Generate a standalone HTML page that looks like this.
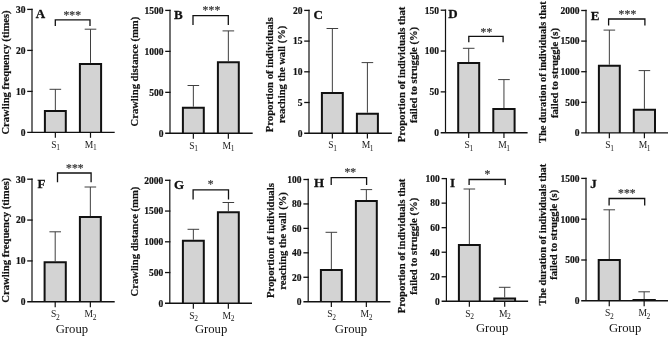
<!DOCTYPE html>
<html><head><meta charset="utf-8"><style>
html,body{margin:0;padding:0;background:#fff;}
svg{display:block;}
text{font-family:"Liberation Serif",serif;fill:#111;}
.tk{font-size:9.5px;font-weight:bold;stroke:#111;stroke-width:0.2px;}
.yl{font-size:10.6px;font-weight:bold;stroke:#111;stroke-width:0.2px;}
.lt{font-size:13.0px;font-weight:bold;stroke:#111;stroke-width:0.3px;}
.xl{font-size:9.6px;fill:#222;}
.gp{font-size:12.7px;fill:#111;}
.st{font-size:11.6px;letter-spacing:0.1px;fill:#3c3c3c;stroke:#3c3c3c;stroke-width:0.25px;}
</style></head><body>
<svg style="opacity:0.999;will-change:transform" width="669" height="337" viewBox="0 0 669 337">
<rect width="669" height="337" fill="#fff"/>
<path d="M55.35,110.00V89.30M49.55,89.30H61.15" stroke="#3f3f3f" stroke-width="1.0" fill="none"/>
<rect x="44.90" y="111.00" width="20.90" height="21.40" fill="#d3d3d3"/>
<path d="M44.90,132.40V111.00H65.80V132.40" fill="none" stroke="#111" stroke-width="2.0"/>
<line x1="55.35" y1="132.40" x2="55.35" y2="137.80" stroke="#111" stroke-width="1.2"/>
<text x="55.55" y="147.60" text-anchor="middle" class="xl">S<tspan dx="-0.4" dy="2.6" font-size="7.5">1</tspan></text>
<path d="M90.50,62.90V29.20M84.70,29.20H96.30" stroke="#3f3f3f" stroke-width="1.0" fill="none"/>
<rect x="79.90" y="63.90" width="21.20" height="68.50" fill="#d3d3d3"/>
<path d="M79.90,132.40V63.90H101.10V132.40" fill="none" stroke="#111" stroke-width="2.0"/>
<line x1="90.50" y1="132.40" x2="90.50" y2="137.80" stroke="#111" stroke-width="1.2"/>
<text x="90.70" y="147.60" text-anchor="middle" class="xl">M<tspan dx="-0.4" dy="2.6" font-size="7.5">1</tspan></text>
<line x1="32.00" y1="8.75" x2="32.00" y2="132.40" stroke="#111" stroke-width="1.2"/>
<line x1="27.20" y1="132.40" x2="114.70" y2="132.40" stroke="#111" stroke-width="1.4"/>
<line x1="27.20" y1="9.40" x2="32.60" y2="9.40" stroke="#111" stroke-width="1.3"/>
<text x="25.40" y="12.70" text-anchor="end" class="tk">30</text>
<line x1="27.20" y1="50.40" x2="32.60" y2="50.40" stroke="#111" stroke-width="1.3"/>
<text x="25.40" y="53.70" text-anchor="end" class="tk">20</text>
<line x1="27.20" y1="91.40" x2="32.60" y2="91.40" stroke="#111" stroke-width="1.3"/>
<text x="25.40" y="94.70" text-anchor="end" class="tk">10</text>
<text x="25.40" y="135.70" text-anchor="end" class="tk">0</text>
<path d="M55.30,25.90V19.90H90.00V25.90" fill="none" stroke="#111" stroke-width="1.3"/>
<text x="72.25" y="19.10" text-anchor="middle" class="st">***</text>
<text x="35.80" y="18.20" class="lt">A</text>
<text transform="translate(9.40,134.60) rotate(-90)" class="yl" textLength="124.2" lengthAdjust="spacingAndGlyphs">Crawling frequency (times)</text>
<path d="M193.35,106.70V85.50M187.55,85.50H199.15" stroke="#3f3f3f" stroke-width="1.0" fill="none"/>
<rect x="182.90" y="107.70" width="20.90" height="25.60" fill="#d3d3d3"/>
<path d="M182.90,133.30V107.70H203.80V133.30" fill="none" stroke="#111" stroke-width="2.0"/>
<line x1="193.35" y1="133.30" x2="193.35" y2="138.70" stroke="#111" stroke-width="1.2"/>
<text x="193.55" y="148.50" text-anchor="middle" class="xl">S<tspan dx="-0.4" dy="2.6" font-size="7.5">1</tspan></text>
<path d="M228.35,61.30V30.90M222.55,30.90H234.15" stroke="#3f3f3f" stroke-width="1.0" fill="none"/>
<rect x="217.90" y="62.30" width="20.90" height="71.00" fill="#d3d3d3"/>
<path d="M217.90,133.30V62.30H238.80V133.30" fill="none" stroke="#111" stroke-width="2.0"/>
<line x1="228.35" y1="133.30" x2="228.35" y2="138.70" stroke="#111" stroke-width="1.2"/>
<text x="228.55" y="148.50" text-anchor="middle" class="xl">M<tspan dx="-0.4" dy="2.6" font-size="7.5">1</tspan></text>
<line x1="170.00" y1="9.75" x2="170.00" y2="133.30" stroke="#111" stroke-width="1.2"/>
<line x1="165.20" y1="133.30" x2="252.70" y2="133.30" stroke="#111" stroke-width="1.4"/>
<line x1="165.20" y1="10.40" x2="170.60" y2="10.40" stroke="#111" stroke-width="1.3"/>
<text x="163.40" y="13.70" text-anchor="end" class="tk">1500</text>
<line x1="165.20" y1="51.37" x2="170.60" y2="51.37" stroke="#111" stroke-width="1.3"/>
<text x="163.40" y="54.67" text-anchor="end" class="tk">1000</text>
<line x1="165.20" y1="92.33" x2="170.60" y2="92.33" stroke="#111" stroke-width="1.3"/>
<text x="163.40" y="95.63" text-anchor="end" class="tk">500</text>
<text x="163.40" y="136.60" text-anchor="end" class="tk">0</text>
<path d="M193.00,24.90V15.60H228.30V24.90" fill="none" stroke="#111" stroke-width="1.3"/>
<text x="211.45" y="13.90" text-anchor="middle" class="st">***</text>
<text x="173.90" y="19.00" class="lt">B</text>
<text transform="translate(137.70,126.50) rotate(-90)" class="yl" textLength="109.7" lengthAdjust="spacingAndGlyphs">Crawling distance (mm)</text>
<path d="M332.35,92.10V28.50M326.55,28.50H338.15" stroke="#3f3f3f" stroke-width="1.0" fill="none"/>
<rect x="321.90" y="93.10" width="20.90" height="40.10" fill="#d3d3d3"/>
<path d="M321.90,133.20V93.10H342.80V133.20" fill="none" stroke="#111" stroke-width="2.0"/>
<line x1="332.35" y1="133.20" x2="332.35" y2="138.60" stroke="#111" stroke-width="1.2"/>
<text x="332.55" y="148.40" text-anchor="middle" class="xl">S<tspan dx="-0.4" dy="2.6" font-size="7.5">1</tspan></text>
<path d="M367.40,112.70V62.60M361.60,62.60H373.20" stroke="#3f3f3f" stroke-width="1.0" fill="none"/>
<rect x="356.90" y="113.70" width="21.00" height="19.50" fill="#d3d3d3"/>
<path d="M356.90,133.20V113.70H377.90V133.20" fill="none" stroke="#111" stroke-width="2.0"/>
<line x1="367.40" y1="133.20" x2="367.40" y2="138.60" stroke="#111" stroke-width="1.2"/>
<text x="367.60" y="148.40" text-anchor="middle" class="xl">M<tspan dx="-0.4" dy="2.6" font-size="7.5">1</tspan></text>
<line x1="309.00" y1="9.75" x2="309.00" y2="133.20" stroke="#111" stroke-width="1.2"/>
<line x1="304.20" y1="133.20" x2="391.90" y2="133.20" stroke="#111" stroke-width="1.4"/>
<line x1="304.20" y1="10.40" x2="309.60" y2="10.40" stroke="#111" stroke-width="1.3"/>
<text x="302.40" y="13.70" text-anchor="end" class="tk">20</text>
<line x1="304.20" y1="41.10" x2="309.60" y2="41.10" stroke="#111" stroke-width="1.3"/>
<text x="302.40" y="44.40" text-anchor="end" class="tk">15</text>
<line x1="304.20" y1="71.80" x2="309.60" y2="71.80" stroke="#111" stroke-width="1.3"/>
<text x="302.40" y="75.10" text-anchor="end" class="tk">10</text>
<line x1="304.20" y1="102.50" x2="309.60" y2="102.50" stroke="#111" stroke-width="1.3"/>
<text x="302.40" y="105.80" text-anchor="end" class="tk">5</text>
<text x="302.40" y="136.50" text-anchor="end" class="tk">0</text>
<text x="313.60" y="19.30" class="lt">C</text>
<text transform="translate(273.40,132.20) rotate(-90)" class="yl" textLength="114.8" lengthAdjust="spacingAndGlyphs">Proportion of individuals</text>
<text transform="translate(285.30,123.30) rotate(-90)" class="yl" textLength="97.6" lengthAdjust="spacingAndGlyphs">reaching the wall (%)</text>
<path d="M468.70,62.00V48.30M462.90,48.30H474.50" stroke="#3f3f3f" stroke-width="1.0" fill="none"/>
<rect x="458.20" y="63.00" width="21.00" height="69.70" fill="#d3d3d3"/>
<path d="M458.20,132.70V63.00H479.20V132.70" fill="none" stroke="#111" stroke-width="2.0"/>
<line x1="468.70" y1="132.70" x2="468.70" y2="138.10" stroke="#111" stroke-width="1.2"/>
<text x="468.90" y="147.90" text-anchor="middle" class="xl">S<tspan dx="-0.4" dy="2.6" font-size="7.5">1</tspan></text>
<path d="M503.95,108.10V79.60M498.15,79.60H509.75" stroke="#3f3f3f" stroke-width="1.0" fill="none"/>
<rect x="493.30" y="109.10" width="21.30" height="23.60" fill="#d3d3d3"/>
<path d="M493.30,132.70V109.10H514.60V132.70" fill="none" stroke="#111" stroke-width="2.0"/>
<line x1="503.95" y1="132.70" x2="503.95" y2="138.10" stroke="#111" stroke-width="1.2"/>
<text x="504.15" y="147.90" text-anchor="middle" class="xl">M<tspan dx="-0.4" dy="2.6" font-size="7.5">1</tspan></text>
<line x1="445.50" y1="9.55" x2="445.50" y2="132.70" stroke="#111" stroke-width="1.2"/>
<line x1="440.70" y1="132.70" x2="527.60" y2="132.70" stroke="#111" stroke-width="1.4"/>
<line x1="440.70" y1="10.20" x2="446.10" y2="10.20" stroke="#111" stroke-width="1.3"/>
<text x="438.90" y="13.50" text-anchor="end" class="tk">150</text>
<line x1="440.70" y1="51.03" x2="446.10" y2="51.03" stroke="#111" stroke-width="1.3"/>
<text x="438.90" y="54.33" text-anchor="end" class="tk">100</text>
<line x1="440.70" y1="91.87" x2="446.10" y2="91.87" stroke="#111" stroke-width="1.3"/>
<text x="438.90" y="95.17" text-anchor="end" class="tk">50</text>
<text x="438.90" y="136.00" text-anchor="end" class="tk">0</text>
<path d="M468.80,42.30V36.40H503.10V42.30" fill="none" stroke="#111" stroke-width="1.3"/>
<text x="486.45" y="35.50" text-anchor="middle" class="st">**</text>
<text x="448.30" y="18.40" class="lt">D</text>
<text transform="translate(405.40,142.20) rotate(-90)" class="yl" textLength="135.5" lengthAdjust="spacingAndGlyphs">Proportion of individuals that</text>
<text transform="translate(417.00,123.00) rotate(-90)" class="yl" textLength="96.1" lengthAdjust="spacingAndGlyphs">failed to struggle (%)</text>
<path d="M609.35,64.70V30.10M603.55,30.10H615.15" stroke="#3f3f3f" stroke-width="1.0" fill="none"/>
<rect x="598.90" y="65.70" width="20.90" height="67.20" fill="#d3d3d3"/>
<path d="M598.90,132.90V65.70H619.80V132.90" fill="none" stroke="#111" stroke-width="2.0"/>
<line x1="609.35" y1="132.90" x2="609.35" y2="138.30" stroke="#111" stroke-width="1.2"/>
<text x="609.55" y="148.10" text-anchor="middle" class="xl">S<tspan dx="-0.4" dy="2.6" font-size="7.5">1</tspan></text>
<path d="M644.40,108.80V70.60M638.60,70.60H650.20" stroke="#3f3f3f" stroke-width="1.0" fill="none"/>
<rect x="633.80" y="109.80" width="21.20" height="23.10" fill="#d3d3d3"/>
<path d="M633.80,132.90V109.80H655.00V132.90" fill="none" stroke="#111" stroke-width="2.0"/>
<line x1="644.40" y1="132.90" x2="644.40" y2="138.30" stroke="#111" stroke-width="1.2"/>
<text x="644.60" y="148.10" text-anchor="middle" class="xl">M<tspan dx="-0.4" dy="2.6" font-size="7.5">1</tspan></text>
<line x1="586.00" y1="9.85" x2="586.00" y2="132.90" stroke="#111" stroke-width="1.2"/>
<line x1="581.20" y1="132.90" x2="668.00" y2="132.90" stroke="#111" stroke-width="1.4"/>
<line x1="581.20" y1="10.50" x2="586.60" y2="10.50" stroke="#111" stroke-width="1.3"/>
<text x="579.40" y="13.80" text-anchor="end" class="tk">2000</text>
<line x1="581.20" y1="41.10" x2="586.60" y2="41.10" stroke="#111" stroke-width="1.3"/>
<text x="579.40" y="44.40" text-anchor="end" class="tk">1500</text>
<line x1="581.20" y1="71.70" x2="586.60" y2="71.70" stroke="#111" stroke-width="1.3"/>
<text x="579.40" y="75.00" text-anchor="end" class="tk">1000</text>
<line x1="581.20" y1="102.30" x2="586.60" y2="102.30" stroke="#111" stroke-width="1.3"/>
<text x="579.40" y="105.60" text-anchor="end" class="tk">500</text>
<text x="579.40" y="136.20" text-anchor="end" class="tk">0</text>
<path d="M608.60,25.50V19.00H644.90V25.50" fill="none" stroke="#111" stroke-width="1.3"/>
<text x="627.45" y="17.90" text-anchor="middle" class="st">***</text>
<text x="590.70" y="19.50" class="lt">E</text>
<text transform="translate(546.00,142.90) rotate(-90)" class="yl" textLength="141.5" lengthAdjust="spacingAndGlyphs">The duration of individuals that</text>
<text transform="translate(557.70,118.00) rotate(-90)" class="yl" textLength="90.0" lengthAdjust="spacingAndGlyphs">failed to struggle (s)</text>
<path d="M55.20,261.20V231.80M49.40,231.80H61.00" stroke="#3f3f3f" stroke-width="1.0" fill="none"/>
<rect x="44.60" y="262.20" width="21.20" height="39.60" fill="#d3d3d3"/>
<path d="M44.60,301.80V262.20H65.80V301.80" fill="none" stroke="#111" stroke-width="2.0"/>
<line x1="55.20" y1="301.80" x2="55.20" y2="307.20" stroke="#111" stroke-width="1.2"/>
<text x="55.40" y="317.00" text-anchor="middle" class="xl">S<tspan dx="-0.4" dy="2.6" font-size="7.5">2</tspan></text>
<path d="M90.35,216.00V187.00M84.55,187.00H96.15" stroke="#3f3f3f" stroke-width="1.0" fill="none"/>
<rect x="79.90" y="217.00" width="20.90" height="84.80" fill="#d3d3d3"/>
<path d="M79.90,301.80V217.00H100.80V301.80" fill="none" stroke="#111" stroke-width="2.0"/>
<line x1="90.35" y1="301.80" x2="90.35" y2="307.20" stroke="#111" stroke-width="1.2"/>
<text x="90.55" y="317.00" text-anchor="middle" class="xl">M<tspan dx="-0.4" dy="2.6" font-size="7.5">2</tspan></text>
<line x1="32.00" y1="178.55" x2="32.00" y2="301.80" stroke="#111" stroke-width="1.2"/>
<line x1="27.20" y1="301.80" x2="114.70" y2="301.80" stroke="#111" stroke-width="1.4"/>
<line x1="27.20" y1="179.20" x2="32.60" y2="179.20" stroke="#111" stroke-width="1.3"/>
<text x="25.40" y="182.50" text-anchor="end" class="tk">30</text>
<line x1="27.20" y1="220.07" x2="32.60" y2="220.07" stroke="#111" stroke-width="1.3"/>
<text x="25.40" y="223.37" text-anchor="end" class="tk">20</text>
<line x1="27.20" y1="260.93" x2="32.60" y2="260.93" stroke="#111" stroke-width="1.3"/>
<text x="25.40" y="264.23" text-anchor="end" class="tk">10</text>
<text x="25.40" y="305.10" text-anchor="end" class="tk">0</text>
<path d="M57.50,182.30V173.00H91.10V182.30" fill="none" stroke="#111" stroke-width="1.3"/>
<text x="74.85" y="171.60" text-anchor="middle" class="st">***</text>
<text x="37.40" y="187.50" class="lt">F</text>
<text transform="translate(8.90,302.70) rotate(-90)" class="yl" textLength="124.8" lengthAdjust="spacingAndGlyphs">Crawling frequency (times)</text>
<text x="71.90" y="333.00" text-anchor="middle" class="gp">Group</text>
<path d="M193.35,239.70V229.30M187.55,229.30H199.15" stroke="#3f3f3f" stroke-width="1.0" fill="none"/>
<rect x="182.90" y="240.70" width="20.90" height="62.60" fill="#d3d3d3"/>
<path d="M182.90,303.30V240.70H203.80V303.30" fill="none" stroke="#111" stroke-width="2.0"/>
<line x1="193.35" y1="303.30" x2="193.35" y2="308.70" stroke="#111" stroke-width="1.2"/>
<text x="193.55" y="318.50" text-anchor="middle" class="xl">S<tspan dx="-0.4" dy="2.6" font-size="7.5">2</tspan></text>
<path d="M228.35,211.30V202.50M222.55,202.50H234.15" stroke="#3f3f3f" stroke-width="1.0" fill="none"/>
<rect x="217.90" y="212.30" width="20.90" height="91.00" fill="#d3d3d3"/>
<path d="M217.90,303.30V212.30H238.80V303.30" fill="none" stroke="#111" stroke-width="2.0"/>
<line x1="228.35" y1="303.30" x2="228.35" y2="308.70" stroke="#111" stroke-width="1.2"/>
<text x="228.55" y="318.50" text-anchor="middle" class="xl">M<tspan dx="-0.4" dy="2.6" font-size="7.5">2</tspan></text>
<line x1="169.80" y1="179.65" x2="169.80" y2="303.30" stroke="#111" stroke-width="1.2"/>
<line x1="165.00" y1="303.30" x2="252.00" y2="303.30" stroke="#111" stroke-width="1.4"/>
<line x1="165.00" y1="180.30" x2="170.40" y2="180.30" stroke="#111" stroke-width="1.3"/>
<text x="163.20" y="183.60" text-anchor="end" class="tk">2000</text>
<line x1="165.00" y1="211.05" x2="170.40" y2="211.05" stroke="#111" stroke-width="1.3"/>
<text x="163.20" y="214.35" text-anchor="end" class="tk">1500</text>
<line x1="165.00" y1="241.80" x2="170.40" y2="241.80" stroke="#111" stroke-width="1.3"/>
<text x="163.20" y="245.10" text-anchor="end" class="tk">1000</text>
<line x1="165.00" y1="272.55" x2="170.40" y2="272.55" stroke="#111" stroke-width="1.3"/>
<text x="163.20" y="275.85" text-anchor="end" class="tk">500</text>
<text x="163.20" y="306.60" text-anchor="end" class="tk">0</text>
<path d="M193.10,199.40V189.90H228.50V199.40" fill="none" stroke="#111" stroke-width="1.3"/>
<text x="210.65" y="187.90" text-anchor="middle" class="st">*</text>
<text x="173.90" y="189.20" class="lt">G</text>
<text transform="translate(137.80,296.50) rotate(-90)" class="yl" textLength="109.8" lengthAdjust="spacingAndGlyphs">Crawling distance (mm)</text>
<text x="211.10" y="332.80" text-anchor="middle" class="gp">Group</text>
<path d="M331.35,269.10V232.30M325.55,232.30H337.15" stroke="#3f3f3f" stroke-width="1.0" fill="none"/>
<rect x="320.90" y="270.10" width="20.90" height="31.60" fill="#d3d3d3"/>
<path d="M320.90,301.70V270.10H341.80V301.70" fill="none" stroke="#111" stroke-width="2.0"/>
<line x1="331.35" y1="301.70" x2="331.35" y2="307.10" stroke="#111" stroke-width="1.2"/>
<text x="331.55" y="316.90" text-anchor="middle" class="xl">S<tspan dx="-0.4" dy="2.6" font-size="7.5">2</tspan></text>
<path d="M366.35,200.10V189.60M360.55,189.60H372.15" stroke="#3f3f3f" stroke-width="1.0" fill="none"/>
<rect x="355.90" y="201.10" width="20.90" height="100.60" fill="#d3d3d3"/>
<path d="M355.90,301.70V201.10H376.80V301.70" fill="none" stroke="#111" stroke-width="2.0"/>
<line x1="366.35" y1="301.70" x2="366.35" y2="307.10" stroke="#111" stroke-width="1.2"/>
<text x="366.55" y="316.90" text-anchor="middle" class="xl">M<tspan dx="-0.4" dy="2.6" font-size="7.5">2</tspan></text>
<line x1="308.20" y1="178.85" x2="308.20" y2="301.70" stroke="#111" stroke-width="1.2"/>
<line x1="303.40" y1="301.70" x2="390.40" y2="301.70" stroke="#111" stroke-width="1.4"/>
<line x1="303.40" y1="179.50" x2="308.80" y2="179.50" stroke="#111" stroke-width="1.3"/>
<text x="301.60" y="182.80" text-anchor="end" class="tk">100</text>
<line x1="303.40" y1="203.94" x2="308.80" y2="203.94" stroke="#111" stroke-width="1.3"/>
<text x="301.60" y="207.24" text-anchor="end" class="tk">80</text>
<line x1="303.40" y1="228.38" x2="308.80" y2="228.38" stroke="#111" stroke-width="1.3"/>
<text x="301.60" y="231.68" text-anchor="end" class="tk">60</text>
<line x1="303.40" y1="252.82" x2="308.80" y2="252.82" stroke="#111" stroke-width="1.3"/>
<text x="301.60" y="256.12" text-anchor="end" class="tk">40</text>
<line x1="303.40" y1="277.26" x2="308.80" y2="277.26" stroke="#111" stroke-width="1.3"/>
<text x="301.60" y="280.56" text-anchor="end" class="tk">20</text>
<text x="301.60" y="305.00" text-anchor="end" class="tk">0</text>
<path d="M331.20,184.90V177.60H366.60V184.90" fill="none" stroke="#111" stroke-width="1.3"/>
<text x="350.35" y="176.10" text-anchor="middle" class="st">**</text>
<text x="313.90" y="187.40" class="lt">H</text>
<text transform="translate(273.50,298.10) rotate(-90)" class="yl" textLength="114.9" lengthAdjust="spacingAndGlyphs">Proportion of individuals</text>
<text transform="translate(285.50,289.80) rotate(-90)" class="yl" textLength="97.6" lengthAdjust="spacingAndGlyphs">reaching the wall (%)</text>
<text x="351.00" y="332.80" text-anchor="middle" class="gp">Group</text>
<path d="M469.35,244.10V189.00M463.55,189.00H475.15" stroke="#3f3f3f" stroke-width="1.0" fill="none"/>
<rect x="458.90" y="245.10" width="20.90" height="56.20" fill="#d3d3d3"/>
<path d="M458.90,301.30V245.10H479.80V301.30" fill="none" stroke="#111" stroke-width="2.0"/>
<line x1="469.35" y1="301.30" x2="469.35" y2="306.70" stroke="#111" stroke-width="1.2"/>
<text x="469.55" y="316.50" text-anchor="middle" class="xl">S<tspan dx="-0.4" dy="2.6" font-size="7.5">2</tspan></text>
<path d="M504.70,297.40V287.30M498.90,287.30H510.50" stroke="#3f3f3f" stroke-width="1.0" fill="none"/>
<rect x="494.30" y="298.40" width="20.80" height="2.90" fill="#d3d3d3"/>
<path d="M494.30,301.30V298.40H515.10V301.30" fill="none" stroke="#111" stroke-width="2.0"/>
<line x1="504.70" y1="301.30" x2="504.70" y2="306.70" stroke="#111" stroke-width="1.2"/>
<text x="504.90" y="316.50" text-anchor="middle" class="xl">M<tspan dx="-0.4" dy="2.6" font-size="7.5">2</tspan></text>
<line x1="446.40" y1="177.95" x2="446.40" y2="301.30" stroke="#111" stroke-width="1.2"/>
<line x1="441.60" y1="301.30" x2="528.10" y2="301.30" stroke="#111" stroke-width="1.4"/>
<line x1="441.60" y1="178.60" x2="447.00" y2="178.60" stroke="#111" stroke-width="1.3"/>
<text x="439.80" y="181.90" text-anchor="end" class="tk">100</text>
<line x1="441.60" y1="203.14" x2="447.00" y2="203.14" stroke="#111" stroke-width="1.3"/>
<text x="439.80" y="206.44" text-anchor="end" class="tk">80</text>
<line x1="441.60" y1="227.68" x2="447.00" y2="227.68" stroke="#111" stroke-width="1.3"/>
<text x="439.80" y="230.98" text-anchor="end" class="tk">60</text>
<line x1="441.60" y1="252.22" x2="447.00" y2="252.22" stroke="#111" stroke-width="1.3"/>
<text x="439.80" y="255.52" text-anchor="end" class="tk">40</text>
<line x1="441.60" y1="276.76" x2="447.00" y2="276.76" stroke="#111" stroke-width="1.3"/>
<text x="439.80" y="280.06" text-anchor="end" class="tk">20</text>
<text x="439.80" y="304.60" text-anchor="end" class="tk">0</text>
<path d="M469.10,184.90V179.50H505.20V184.90" fill="none" stroke="#111" stroke-width="1.3"/>
<text x="487.55" y="178.00" text-anchor="middle" class="st">*</text>
<text x="450.00" y="187.40" class="lt">I</text>
<text transform="translate(405.00,313.20) rotate(-90)" class="yl" textLength="134.6" lengthAdjust="spacingAndGlyphs">Proportion of individuals that</text>
<text transform="translate(417.00,294.70) rotate(-90)" class="yl" textLength="96.9" lengthAdjust="spacingAndGlyphs">failed to struggle (%)</text>
<text x="492.10" y="331.90" text-anchor="middle" class="gp">Group</text>
<path d="M609.25,259.10V209.80M603.45,209.80H615.05" stroke="#3f3f3f" stroke-width="1.0" fill="none"/>
<rect x="598.70" y="260.10" width="21.10" height="40.70" fill="#d3d3d3"/>
<path d="M598.70,300.80V260.10H619.80V300.80" fill="none" stroke="#111" stroke-width="2.0"/>
<line x1="609.25" y1="300.80" x2="609.25" y2="306.20" stroke="#111" stroke-width="1.2"/>
<text x="609.45" y="316.00" text-anchor="middle" class="xl">S<tspan dx="-0.4" dy="2.6" font-size="7.5">2</tspan></text>
<path d="M644.15,299.10V291.80M638.35,291.80H649.95" stroke="#3f3f3f" stroke-width="1.0" fill="none"/>
<rect x="633.50" y="300.10" width="21.30" height="0.70" fill="#d3d3d3"/>
<path d="M633.50,300.80V300.10H654.80V300.80" fill="none" stroke="#111" stroke-width="2.0"/>
<line x1="644.15" y1="300.80" x2="644.15" y2="306.20" stroke="#111" stroke-width="1.2"/>
<text x="644.35" y="316.00" text-anchor="middle" class="xl">M<tspan dx="-0.4" dy="2.6" font-size="7.5">2</tspan></text>
<line x1="586.00" y1="177.75" x2="586.00" y2="300.80" stroke="#111" stroke-width="1.2"/>
<line x1="581.20" y1="300.80" x2="668.00" y2="300.80" stroke="#111" stroke-width="1.4"/>
<line x1="581.20" y1="178.40" x2="586.60" y2="178.40" stroke="#111" stroke-width="1.3"/>
<text x="579.40" y="181.70" text-anchor="end" class="tk">1500</text>
<line x1="581.20" y1="219.20" x2="586.60" y2="219.20" stroke="#111" stroke-width="1.3"/>
<text x="579.40" y="222.50" text-anchor="end" class="tk">1000</text>
<line x1="581.20" y1="260.00" x2="586.60" y2="260.00" stroke="#111" stroke-width="1.3"/>
<text x="579.40" y="263.30" text-anchor="end" class="tk">500</text>
<text x="579.40" y="304.10" text-anchor="end" class="tk">0</text>
<path d="M609.10,205.50V198.50H644.70V205.50" fill="none" stroke="#111" stroke-width="1.3"/>
<text x="626.85" y="197.20" text-anchor="middle" class="st">***</text>
<text x="590.30" y="187.60" class="lt">J</text>
<text transform="translate(545.50,305.40) rotate(-90)" class="yl" textLength="141.5" lengthAdjust="spacingAndGlyphs">The duration of individuals that</text>
<text transform="translate(557.40,279.80) rotate(-90)" class="yl" textLength="90.0" lengthAdjust="spacingAndGlyphs">failed to struggle (s)</text>
<text x="625.10" y="332.10" text-anchor="middle" class="gp">Group</text>
</svg>
</body></html>
